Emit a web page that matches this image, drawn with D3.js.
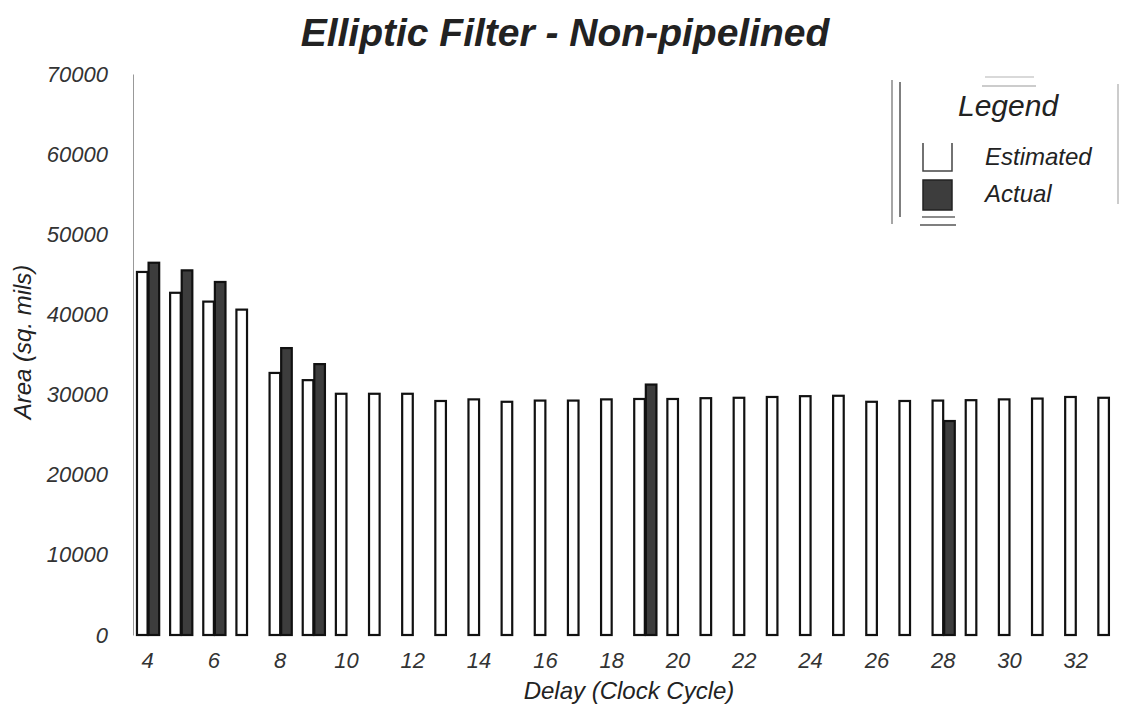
<!DOCTYPE html>
<html>
<head>
<meta charset="utf-8">
<script src="https://cdn.jsdelivr.net/npm/d3@7"></script>
<style>
    body { margin: 0; background: #fff; }
    svg { display: block; font-family: "Liberation Sans", Arial, Helvetica, sans-serif; }
    .tick text { font-style: italic; fill: #333; }
</style>
</head>
<body>
<div id="chart"></div>
<script>
// Data for the chart
const delays = [4, 5, 6, 7, 8, 9, 10, 11, 12, 13, 14, 15, 16, 17, 18, 19, 20,
    21, 22, 23, 24, 25, 26, 27, 28, 29, 30, 31, 32, 33];

const estimated = [45300, 42700, 41600, 40600, 32700, 31800, 30100, 30100, 30100, 29200,
    29400, 29100, 29250, 29250, 29400, 29450, 29450, 29550, 29600, 29700,
    29800, 29850, 29100, 29200, 29250, 29300, 29400, 29500, 29700, 29600];

// only some delays have an actual (laid out) area
const actual = [46450, 45500, 44050, null, 35800, 33800, null, null, null, null,
    null, null, null, null, null, 31250, null, null, null, null,
    null, null, null, null, 26700, null, null, null, null, null];

const xTickValues = [4, 6, 8, 10, 12, 14, 16, 18, 20, 22, 24, 26, 28, 30, 32];
const yTickValues = [0, 10000, 20000, 30000, 40000, 50000, 60000, 70000];
const seriesNames = ["Estimated", "Actual"];

const width = 1121;
const height = 704;

const svg = d3.select("#chart").append("svg")
    .attr("width", width)
    .attr("height", height);

const x0 = d3.scaleBand()
    .domain(delays)
    .range([131, 1125.5])
    .paddingInner(0.3)
    .paddingOuter(0.15);

const x1 = d3.scaleBand()
    .domain(seriesNames)
    .range([0, x0.bandwidth()]);

const y = d3.scaleLinear()
    .domain([0, 70000])
    .range([635, 74]);

const fills = { Estimated: "#fff", Actual: "#3d3d3d" };

// Title
svg.append("text")
    .attr("x", 565)
    .attr("y", 46)
    .attr("text-anchor", "middle")
    .style("font-size", "39px")
    .style("font-weight", "bold")
    .style("font-style", "italic")
    .style("fill", "#222")
    .text("Elliptic Filter - Non-pipelined");

// Y axis
const yAxis = svg.append("g")
    .attr("transform", "translate(133,0)")
    .call(d3.axisLeft(y).tickValues(yTickValues).tickFormat(d3.format("d"))
        .tickSize(0).tickPadding(25));
yAxis.select(".domain").attr("stroke", "#999");
yAxis.selectAll(".tick text").style("font-size", "22px");

svg.append("text")
    .attr("transform", "translate(31,342) rotate(-90)")
    .attr("text-anchor", "middle")
    .style("font-size", "24px")
    .style("font-style", "italic")
    .style("fill", "#222")
    .text("Area (sq. mils)");

// X axis (labels only)
const xAxis = svg.append("g")
    .attr("transform", "translate(0,636)")
    .call(d3.axisBottom(x0).tickValues(xTickValues).tickSize(0).tickPadding(16));
xAxis.select(".domain").remove();
xAxis.selectAll(".tick text").style("font-size", "22px");

svg.append("text")
    .attr("x", 629)
    .attr("y", 699)
    .attr("text-anchor", "middle")
    .style("font-size", "24px")
    .style("font-style", "italic")
    .style("fill", "#222")
    .text("Delay (Clock Cycle)");

// Bars
const rows = delays.map((d, i) => ({ delay: d, Estimated: estimated[i], Actual: actual[i] }));

const groups = svg.append("g")
    .selectAll("g")
    .data(rows)
    .enter().append("g")
    .attr("transform", d => `translate(${x0(d.delay)},0)`);

groups.selectAll("rect")
    .data(d => seriesNames.filter(s => d[s] != null).map(s => ({ key: s, value: d[s] })))
    .enter().append("rect")
    .attr("x", d => x1(d.key) + 1)
    .attr("y", d => y(d.value))
    .attr("width", x1.bandwidth() - 1)
    .attr("height", d => y(0) - y(d.value))
    .attr("fill", d => fills[d.key])
    .attr("stroke", "#111")
    .attr("stroke-width", 2.2);

// Legend
const legend = svg.append("g");

// frame lines (faint, as in the scanned original)
const frame = [
    [892, 80, 892, 224, "#888"], [900, 82, 900, 217, "#555"],
    [1118, 84, 1118, 204, "#bbb"], [985, 77, 1034, 77, "#ccc"],
    [982, 86, 1036, 86, "#bbb"], [922, 217, 955, 217, "#666"],
    [920, 225, 956, 225, "#555"]
];
legend.selectAll("line")
    .data(frame)
    .enter().append("line")
    .attr("x1", d => d[0]).attr("y1", d => d[1])
    .attr("x2", d => d[2]).attr("y2", d => d[3])
    .attr("stroke", d => d[4])
    .attr("stroke-width", 1.5);

legend.append("text")
    .attr("x", 958)
    .attr("y", 116)
    .style("font-size", "30px")
    .style("font-style", "italic")
    .style("fill", "#222")
    .text("Legend");

const items = legend.selectAll(".item")
    .data(seriesNames)
    .enter().append("g")
    .attr("class", "item")
    .attr("transform", (d, i) => `translate(0,${i * 37})`);

// open-topped swatch for the estimated series
items.filter(d => d === "Estimated").append("path")
    .attr("d", "M923,143 V171 H952 V143")
    .attr("fill", "none")
    .attr("stroke", "#444")
    .attr("stroke-width", 1.5);

items.filter(d => d === "Actual").append("rect")
    .attr("x", 923)
    .attr("y", 143)
    .attr("width", 29)
    .attr("height", 30)
    .attr("fill", fills.Actual)
    .attr("stroke", "#222")
    .attr("stroke-width", 1.5);

items.append("text")
    .attr("x", 985)
    .attr("y", 165)
    .style("font-size", "24px")
    .style("font-style", "italic")
    .style("fill", "#222")
    .text(d => d);
</script>
</body>
</html>
